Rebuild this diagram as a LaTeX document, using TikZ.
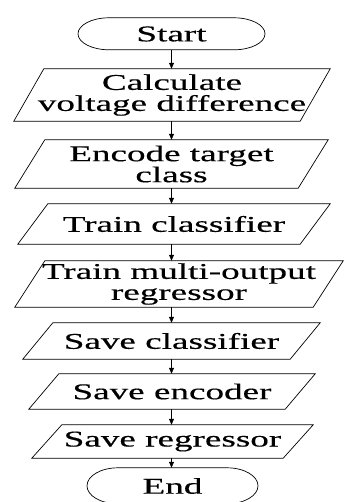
\documentclass[tikz,border=0pt]{standalone}
\usepackage{fontspec}
\setmainfont{Liberation Serif}[FakeStretch=1.65,FakeBold=0.4]
\usetikzlibrary{arrows.meta}

\begin{document}
\begin{tikzpicture}[x=1pt,y=1pt,
		font=\fontsize{22.5}{21}\selectfont,
		boxslant/.store in=\boxslant, boxslant=30pt,
		box/.style={rectangle, align=center, inner sep=0pt,
			append after command={\pgfextra{
				\draw[line width=0.7pt] ([xshift=\boxslant]\tikzlastnode.north west) -- (\tikzlastnode.north east)
					-- ([xshift=-\boxslant]\tikzlastnode.south east) -- (\tikzlastnode.south west) -- cycle;}}},
		term/.style={inner sep=0pt},
		arrow/.style={-{Triangle[length=6pt,width=5pt]}, line width=0.6pt}]
	\useasboundingbox (0,0) rectangle (346,502);

	\node[term, minimum width=187, minimum height=32] (start) at (171.5,468) {Start};
	\node[box, boxslant=33pt, minimum width=316, minimum height=52] (calc) at (172,407) {Calculate\\voltage difference};
	\node[box, boxslant=30pt, minimum width=313, minimum height=48] (encode) at (171.5,338) {Encode target\\class};
	\node[box, boxslant=27pt, minimum width=312, minimum height=40] (trainc) at (174,278) {Train classifier};
	\node[box, boxslant=30pt, minimum width=328, minimum height=46] (trainr) at (179,218) {Train multi-output\\regressor};
	\node[box, boxslant=25pt, minimum width=297, minimum height=36] (savec) at (171.5,161) {Save classifier};
	\node[box, boxslant=26pt, minimum width=286, minimum height=35] (savee) at (172,110.5) {Save encoder};
	\node[box, boxslant=23pt, minimum width=281, minimum height=33] (saver) at (172.5,60.5) {Save regressor};
	\node[term, minimum width=171, minimum height=36] (end) at (172.5,16) {End};

	%% terminal outlines
	\draw[line width=0.7pt] (start.north) -- ++(-62.5,0) arc[start angle=90, end angle=270, x radius=31, y radius=16]
		-- ++(125,0) arc[start angle=-90, end angle=90, x radius=31, y radius=16] -- cycle;
	\draw[line width=0.7pt] (end.north) -- ++(-54.5,0) arc[start angle=90, end angle=270, x radius=31, y radius=18]
		-- ++(109,0) arc[start angle=-90, end angle=90, x radius=31, y radius=18] -- cycle;

	\draw[arrow] (start.south) -- (calc.north -| start);
	\draw[arrow] (calc.south -| start) -- (encode.north -| start);
	\draw[arrow] (encode.south -| start) -- (trainc.north -| start);
	\draw[arrow] (trainc.south -| start) -- (trainr.north -| start);
	\draw[arrow] (trainr.south -| start) -- (savec.north -| start);
	\draw[arrow] (savec.south -| start) -- (savee.north -| start);
	\draw[arrow] (savee.south -| start) -- (saver.north -| start);
	\draw[arrow] (saver.south -| start) -- (end.north -| start);
\end{tikzpicture}
\end{document}
